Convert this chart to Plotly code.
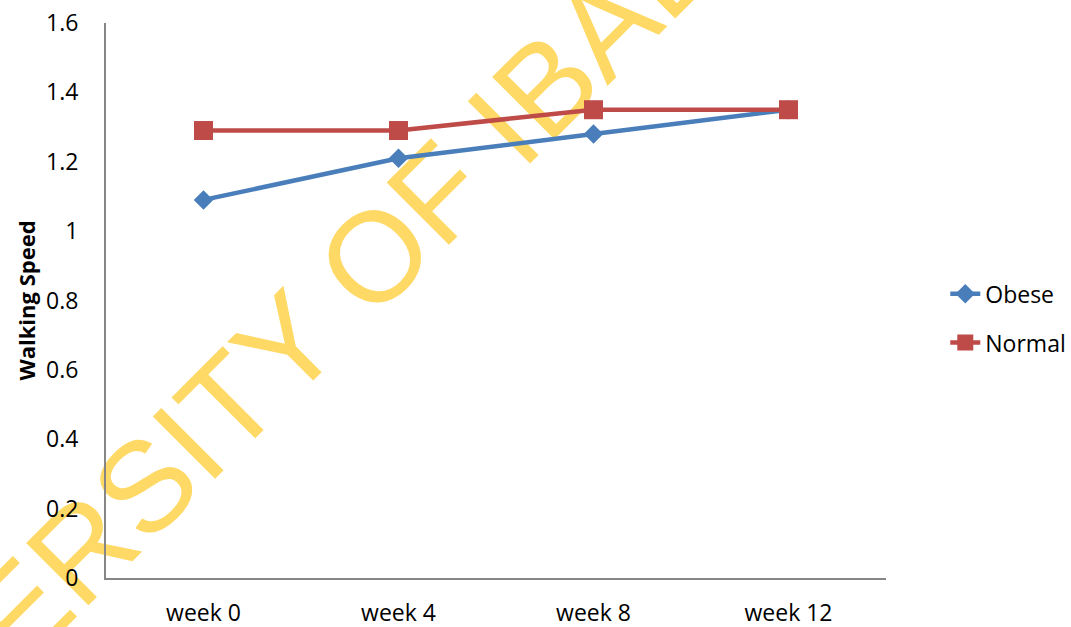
import plotly.graph_objects as go

# Walking speed over the 12-week programme
weeks = ["week 0", "week 4", "week 8", "week 12"]
obese = [1.09, 1.21, 1.28, 1.35]
normal = [1.29, 1.29, 1.35, 1.35]
y_ticks = [0, 0.2, 0.4, 0.6, 0.8, 1, 1.2, 1.4, 1.6]
y_tick_text = ["0", "0.2", "0.4", "0.6", "0.8", "1", "1.2", "1.4", "1.6"]
watermark = "UNIVERSITY OF IBADAN"

FONT = "Open Sans"

fig = go.Figure()
fig.add_trace(go.Scatter(
    x=weeks, y=obese, name="Obese", mode="lines+markers",
    line=dict(color="#4A7EBB", width=4.5),
    marker=dict(symbol="diamond", size=15, color="#4A7EBB"),
    legendgroup="a",
))
fig.add_trace(go.Scatter(
    x=weeks, y=normal, name="Normal", mode="lines+markers",
    line=dict(color="#BE4B48", width=4.5),
    marker=dict(symbol="square", size=19, color="#BE4B48"),
    legendgroup="b",
))

# Institutional watermark behind the data
fig.add_shape(
    type="rect", xref="paper", yref="paper",
    x0=0.228, x1=0.248, y0=0.451, y1=0.471,
    line=dict(width=0), fillcolor="rgba(0,0,0,0)", layer="below",
    label=dict(text=watermark, textangle=-45, textposition="middle center",
               font=dict(family="Liberation Sans", size=128, color="#FFD966")),
)

fig.update_layout(
    width=1071, height=627,
    margin=dict(l=106, r=185, t=23, b=49, autoexpand=False),
    paper_bgcolor="white", plot_bgcolor="rgba(0,0,0,0)",
    font=dict(family=FONT, size=23, color="black"),
    showlegend=True,
    legend=dict(x=1.076, xanchor="left", y=0.468, yanchor="middle",
                font=dict(family=FONT, size=23), tracegroupgap=16,
                traceorder="grouped", bgcolor="rgba(0,0,0,0)"),
    xaxis=dict(
        type="category", range=[-0.5, 3.5], automargin=False,
        showline=True, linecolor="#868686", linewidth=2,
        showgrid=False, zeroline=False,
        ticks="outside", ticklen=13, tickcolor="rgba(0,0,0,0)",
        tickfont=dict(family=FONT, size=23),
    ),
    yaxis=dict(
        range=[0, 1.6], tickvals=y_ticks, ticktext=y_tick_text, automargin=False,
        showline=True, linecolor="#868686", linewidth=2,
        showgrid=False, zeroline=False,
        ticks="outside", ticklen=21, tickcolor="rgba(0,0,0,0)",
        tickfont=dict(family=FONT, size=23),
        title=dict(text="<b>Walking Speed</b>", standoff=4,
                   font=dict(family=FONT, size=22)),
    ),
)

fig.write_html("out.html")
